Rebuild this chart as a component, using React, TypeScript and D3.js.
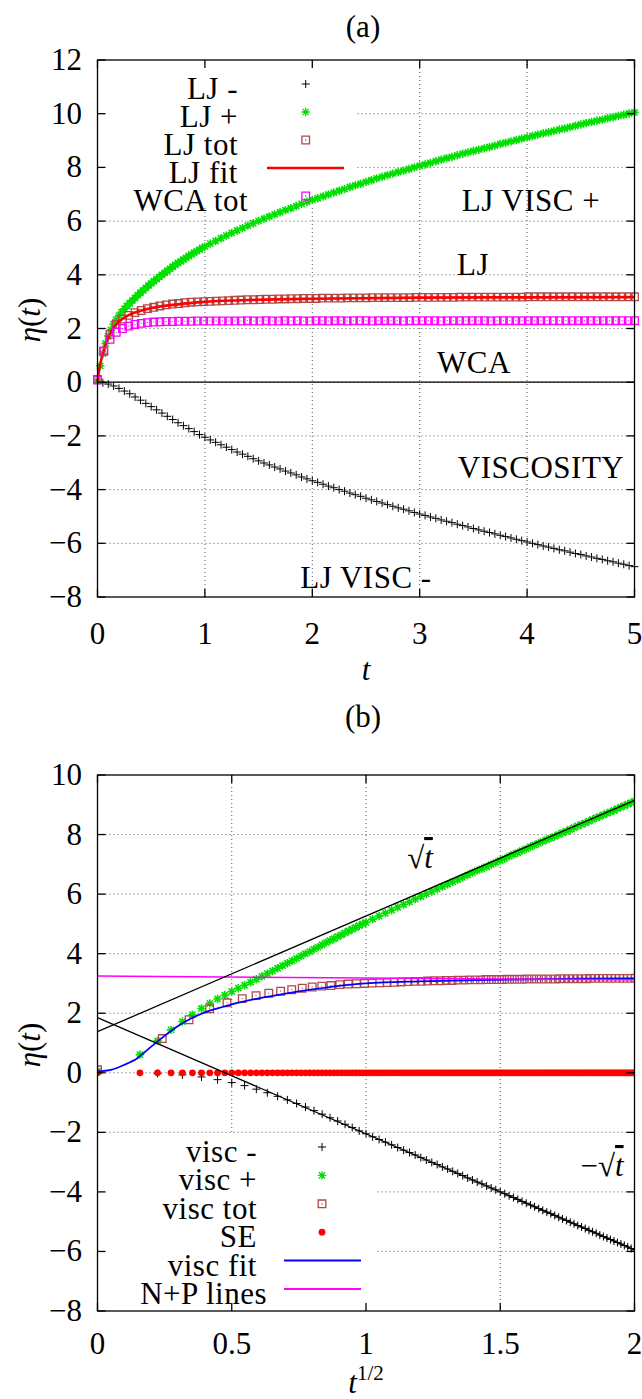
import React from "react";
import * as d3 from "d3";

const WIDTH = 642;
const HEIGHT = 1399;
const FONT = "'Liberation Serif', 'Times New Roman', serif";

// ---------- data ----------
// negative stress contribution, sampled every 0.05 in t
const MINUS_DT = 0.05;
const ljMinus = [
  0.0, -0.02, -0.07, -0.14, -0.23, -0.33, -0.43, -0.55, -0.67, -0.79,
  -0.91, -1.03, -1.15, -1.27, -1.39, -1.51, -1.62, -1.73, -1.84, -1.95,
  -2.05, -2.15, -2.24, -2.33, -2.42, -2.51, -2.6, -2.68, -2.76, -2.85,
  -2.93, -3.01, -3.08, -3.16, -3.23, -3.31, -3.38, -3.45, -3.53, -3.6,
  -3.67, -3.73, -3.8, -3.87, -3.93, -4.0, -4.06, -4.13, -4.19, -4.25,
  -4.32, -4.38, -4.44, -4.5, -4.56, -4.62, -4.68, -4.73, -4.79, -4.85,
  -4.91, -4.96, -5.02, -5.07, -5.13, -5.18, -5.23, -5.29, -5.34, -5.39,
  -5.45, -5.5, -5.55, -5.6, -5.65, -5.7, -5.75, -5.8, -5.85, -5.9,
  -5.95, -6.0, -6.05, -6.1, -6.14, -6.19, -6.24, -6.28, -6.33, -6.38,
  -6.42, -6.47, -6.51, -6.56, -6.6, -6.65, -6.69, -6.74, -6.78, -6.83,
  -6.87,
];

// positive stress contribution: every 0.025 up to t = 1, then every 0.05
const PLUS_EARLY_DT = 0.025;
const ljPlusEarly = [
  0.05, 0.61, 1.07, 1.44, 1.72, 1.95, 2.16, 2.33, 2.48, 2.61,
  2.73, 2.84, 2.94, 3.04, 3.14, 3.24, 3.33, 3.42, 3.51, 3.6,
  3.68, 3.76, 3.84, 3.92, 4.0, 4.07, 4.15, 4.22, 4.3, 4.37,
  4.44, 4.5, 4.57, 4.63, 4.7, 4.76, 4.82, 4.88, 4.94, 5.0,
  5.05,
];
const PLUS_LATE_T0 = 1.05;
const PLUS_LATE_DT = 0.05;
const ljPlusLate = [
  5.16, 5.26, 5.36, 5.46, 5.56, 5.65, 5.74, 5.83, 5.92, 6.01,
  6.09, 6.17, 6.25, 6.33, 6.41, 6.48, 6.56, 6.64, 6.72, 6.79,
  6.85, 6.92, 6.99, 7.06, 7.13, 7.19, 7.27, 7.33, 7.39, 7.46,
  7.52, 7.59, 7.65, 7.71, 7.77, 7.83, 7.88, 7.94, 8.0, 8.06,
  8.11, 8.17, 8.23, 8.29, 8.34, 8.39, 8.45, 8.51, 8.56, 8.61,
  8.66, 8.71, 8.76, 8.81, 8.87, 8.92, 8.97, 9.02, 9.07, 9.12,
  9.17, 9.22, 9.27, 9.31, 9.36, 9.41, 9.45, 9.5, 9.55, 9.6,
  9.65, 9.69, 9.74, 9.78, 9.83, 9.87, 9.92, 9.96, 10.01, 10.05,
];

// total viscosity (LJ and WCA), 87 samples over 0..5
const TOT_DT = 5 / 86;
const ljTot = [
  0.1, 1.15, 1.78, 2.15, 2.35, 2.49, 2.59, 2.67, 2.74, 2.79,
  2.84, 2.88, 2.91, 2.93, 2.96, 2.98, 2.99, 3.0, 3.01, 3.02,
  3.03, 3.04, 3.05, 3.06, 3.07, 3.07, 3.08, 3.09, 3.09, 3.1,
  3.1, 3.11, 3.11, 3.12, 3.12, 3.12, 3.13, 3.13, 3.13, 3.13,
  3.14, 3.14, 3.14, 3.14, 3.15, 3.15, 3.15, 3.15, 3.15, 3.15,
  3.15, 3.16, 3.16, 3.16, 3.16, 3.16, 3.16, 3.16, 3.17, 3.17,
  3.17, 3.17, 3.17, 3.17, 3.17, 3.17, 3.17, 3.17, 3.17, 3.18,
  3.18, 3.18, 3.18, 3.18, 3.18, 3.18, 3.18, 3.18, 3.18, 3.18,
  3.18, 3.18, 3.18, 3.18, 3.18, 3.18, 3.18,
];
const wcaTot = [
  0.08, 1.15, 1.6, 1.86, 2.0, 2.09, 2.15, 2.19, 2.22, 2.24,
  2.25, 2.26, 2.26, 2.27, 2.27, 2.27, 2.28, 2.28, 2.28, 2.28,
  2.28, 2.28, 2.28, 2.28, 2.29, 2.28, 2.28, 2.29, 2.28, 2.28,
  2.29, 2.28, 2.29, 2.28, 2.28, 2.29, 2.29, 2.28, 2.29, 2.29,
  2.28, 2.29, 2.29, 2.29, 2.28, 2.29, 2.29, 2.29, 2.29, 2.28,
  2.29, 2.29, 2.29, 2.29, 2.29, 2.28, 2.29, 2.29, 2.29, 2.29,
  2.29, 2.29, 2.29, 2.28, 2.29, 2.29, 2.29, 2.29, 2.29, 2.29,
  2.29, 2.29, 2.29, 2.29, 2.29, 2.29, 2.29, 2.29, 2.29, 2.29,
  2.29, 2.29, 2.29, 2.29, 2.29, 2.29, 2.29,
];

// fitted total viscosity vs t
const ljFitT = [0, 0.01, 0.02, 0.03, 0.05, 0.075, 0.1, 0.15, 0.2, 0.3, 0.4, 0.5, 0.75, 1, 1.5, 2, 3, 4, 5];
const ljFitV = [0, 0.3, 0.55, 0.75, 1.05, 1.4, 1.66, 2.02, 2.26, 2.52, 2.66, 2.76, 2.9, 2.99, 3.07, 3.11, 3.15, 3.16, 3.17];

// fitted total viscosity vs sqrt(t)
const viscFitX = [0, 0.05, 0.1, 0.15, 0.2, 0.25, 0.3, 0.35, 0.4, 0.45, 0.5, 0.6, 0.7, 0.8, 0.9, 1.0, 1.2, 1.4, 1.6, 1.8, 2.0];
const viscFitV = [0.05, 0.1, 0.27, 0.5, 0.88, 1.24, 1.57, 1.83, 2.03, 2.17, 2.3, 2.5, 2.66, 2.8, 2.92, 3.0, 3.07, 3.11, 3.14, 3.16, 3.17];

// Stokes-Einstein reference, every 0.025 in t
const SE_DT = 0.025;
const seValues = [
  0, 0, 0, 0, 0, 0, 0, 0, 0, 0, 0, 0, 0, 0, 0, 0, 0, 0, 0, 0,
  0, 0, 0, 0, 0, 0, 0, 0, 0, 0, 0, 0, 0, 0, 0, 0, 0, 0, 0, 0,
  0, 0, 0, 0, 0, 0, 0, 0, 0, 0, 0, 0, 0, 0, 0, 0, 0, 0, 0, 0,
  0, 0, 0, 0, 0, 0, 0, 0, 0, 0, 0, 0, 0, 0, 0, 0, 0, 0, 0, 0,
  0, 0, 0, 0, 0, 0, 0, 0, 0, 0, 0, 0, 0, 0, 0, 0, 0, 0, 0, 0,
  0, 0, 0, 0, 0, 0, 0, 0, 0, 0, 0, 0, 0, 0, 0, 0, 0, 0, 0, 0,
  0, 0, 0, 0, 0, 0, 0, 0, 0, 0, 0, 0, 0, 0, 0, 0, 0, 0, 0, 0,
  0, 0, 0, 0, 0, 0, 0, 0, 0, 0, 0, 0, 0, 0, 0, 0, 0, 0, 0, 0,
  0,
];

// straight guide lines in panel (b), given at x = 0 and x = 2
const lineX = [0, 2];
const sqrtLineV = [1.38, 9.15];
const negSqrtLineV = [1.85, -5.95];
const npLineV = [3.25, 3.12];

const xTicksA = [0, 1, 2, 3, 4, 5];
const yTicksA = [-8, -6, -4, -2, 0, 2, 4, 6, 8, 10, 12];
const xTicksB = [0, 0.5, 1, 1.5, 2];
const xTickLabelsB = ["0", "0.5", "1", "1.5", "2"];
const yTicksB = [-8, -6, -4, -2, 0, 2, 4, 6, 8, 10];

const legendA = ["LJ -", "LJ +", "LJ tot", "LJ fit", "WCA tot"];
const legendB = ["visc -", "visc +", "visc tot", "SE", "visc fit", "N+P lines"];

// ---------- styling ----------
const C_GREEN = "#00e000";
const C_BROWN = "#b04848";
const C_PINK = "#ff00ff";
const C_RED = "#ff0000";
const C_BLUE = "#0000ff";
const C_GRID = "#555";
const FS = 31;

const boxA = { left: 97.5, right: 634.5, top: 60, bottom: 597 };
const boxB = { left: 97.5, right: 634.5, top: 775, bottom: 1311 };

// ---------- marker path builders ----------
const plusD = (x: number, y: number, s = 4) => `M${x - s},${y}h${2 * s}M${x},${y - s}v${2 * s}`;
const starD = (x: number, y: number) => {
  const s = 4.2, d = 3.1;
  return plusD(x, y, s) + `M${x - d},${y - d}l${2 * d},${2 * d}M${x - d},${y + d}l${2 * d},${-2 * d}`;
};
const squareD = (x: number, y: number, s = 3.8) => `M${x - s},${y - s}h${2 * s}v${2 * s}h${-2 * s}Z`;
const dotD = (x: number, y: number) => `M${x - 0.6},${y}h1.2`;

const tickText = (v: number) => (v < 0 ? "\u2212" + Math.abs(v) : String(v));

type Pt = [number, number];

const minusPts: Pt[] = ljMinus.map((v, i) => [i * MINUS_DT, v]);
const plusPts: Pt[] = [
  ...ljPlusEarly.map((v, i) => [i * PLUS_EARLY_DT, v] as Pt),
  ...ljPlusLate.map((v, i) => [PLUS_LATE_T0 + i * PLUS_LATE_DT, v] as Pt),
];
const totPts: Pt[] = ljTot.map((v, i) => [i * TOT_DT, v]);
const wcaPts: Pt[] = wcaTot.map((v, i) => [i * TOT_DT, v]);
const fitPts: Pt[] = ljFitT.map((t, i) => [t, ljFitV[i]]);
const sePts: Pt[] = seValues.map((v, i) => [i * SE_DT, v]);

function Frame({ box, xs, ys, xTicks, yTicks }: any) {
  const L = 8;
  return (
    <g stroke="#000" strokeWidth={1.3} fill="none">
      <rect x={box.left} y={box.top} width={box.right - box.left} height={box.bottom - box.top} />
      {yTicks.map((v: number) => (
        <g key={"y" + v}>
          <line x1={box.left} x2={box.left + L} y1={ys(v)} y2={ys(v)} />
          <line x1={box.right - L} x2={box.right} y1={ys(v)} y2={ys(v)} />
        </g>
      ))}
      {xTicks.map((v: number) => (
        <g key={"x" + v}>
          <line x1={xs(v)} x2={xs(v)} y1={box.bottom} y2={box.bottom - L} />
          <line x1={xs(v)} x2={xs(v)} y1={box.top} y2={box.top + L} />
        </g>
      ))}
    </g>
  );
}

function Grid({ box, xs, ys, xTicks, yTicks }: any) {
  return (
    <g stroke={C_GRID} strokeWidth={1} strokeDasharray="1 3" fill="none">
      {xTicks
        .filter((v: number) => xs(v) > box.left + 1 && xs(v) < box.right - 1)
        .map((v: number) => (
          <line key={"gx" + v} x1={xs(v)} x2={xs(v)} y1={box.top} y2={box.bottom} />
        ))}
      {yTicks
        .filter((v: number) => ys(v) > box.top + 1 && ys(v) < box.bottom - 1)
        .map((v: number) => (
          <line key={"gy" + v} x1={box.left} x2={box.right} y1={ys(v)} y2={ys(v)} />
        ))}
    </g>
  );
}

function TickLabels({ xs, ys, xTicks, xLabels, yTicks, xLabelY }: any) {
  return (
    <g fontFamily={FONT} fontSize={FS} fill="#000">
      {yTicks.map((v: number) => (
        <text key={"ly" + v} x={82} y={ys(v) + 10} textAnchor="end">
          {tickText(v)}
        </text>
      ))}
      {xTicks.map((v: number, i: number) => (
        <text key={"lx" + v} x={xs(v)} y={xLabelY} textAnchor="middle">
          {xLabels ? xLabels[i] : tickText(v)}
        </text>
      ))}
    </g>
  );
}

function EtaLabel({ cy }: { cy: number }) {
  return (
    <text
      transform={`translate(40,${cy}) rotate(-90)`}
      textAnchor="middle"
      fontFamily={FONT}
      fontSize={FS}
    >
      <tspan fontStyle="italic">{"\u03B7"}</tspan>(<tspan fontStyle="italic">t</tspan>)
    </text>
  );
}

function PanelA() {
  const xs = d3.scaleLinear().domain([0, 5]).range([boxA.left, boxA.right]);
  const ys = d3.scaleLinear().domain([-8, 12]).range([boxA.bottom, boxA.top]);
  const line = d3
    .line<Pt>()
    .x((d) => xs(d[0]))
    .y((d) => ys(d[1]))
    .curve(d3.curveMonotoneX);

  const keyBox = { x0: boxA.left, x1: 357, y0: boxA.top, y1: 208 };
  const rowY = legendA.map((_, i) => 84 + i * 28);
  const mx = 305.7;

  return (
    <g>
      <text x={363} y={37} textAnchor="middle" fontFamily={FONT} fontSize={FS}>(a)</text>
      <Grid box={boxA} xs={xs} ys={ys} xTicks={xTicksA} yTicks={yTicksA} />
      <rect x={keyBox.x0} y={keyBox.y0} width={keyBox.x1 - keyBox.x0} height={keyBox.y1 - keyBox.y0} fill="#fff" />
      {/* zero axis */}
      <line x1={boxA.left} x2={boxA.right} y1={ys(0)} y2={ys(0)} stroke="#000" strokeWidth={1.2} />

      <path d={minusPts.map(([t, v]) => plusD(xs(t), ys(v))).join("")} stroke="#000" strokeWidth={1} fill="none" />
      <path d={plusPts.map(([t, v]) => starD(xs(t), ys(v))).join("")} stroke={C_GREEN} strokeWidth={1.6} fill="none" />
      <path d={totPts.map(([t, v]) => squareD(xs(t), ys(v))).join("")} stroke={C_BROWN} strokeWidth={1.3} fill="none" />
      <path d={totPts.map(([t, v]) => dotD(xs(t), ys(v))).join("")} stroke={C_BROWN} strokeWidth={1} fill="none" />
      <path d={line(fitPts) || ""} stroke={C_RED} strokeWidth={2.6} fill="none" />
      <path d={wcaPts.map(([t, v]) => squareD(xs(t), ys(v))).join("")} stroke={C_PINK} strokeWidth={1.3} fill="none" />
      <path d={wcaPts.map(([t, v]) => dotD(xs(t), ys(v))).join("")} stroke={C_PINK} strokeWidth={1} fill="none" />

      {/* key */}
      <g fontFamily={FONT} fontSize={FS} letterSpacing={0.5}>
        {legendA.map((s, i) => (
          <text key={s} x={s === "WCA tot" ? 248 : 238} y={rowY[i] + 15} textAnchor="end">
            {s}
          </text>
        ))}
      </g>
      <path d={plusD(mx, rowY[0])} stroke="#000" strokeWidth={1} />
      <path d={starD(mx, rowY[1])} stroke={C_GREEN} strokeWidth={1.3} />
      <path d={squareD(mx, rowY[2]) + dotD(mx, rowY[2])} stroke={C_BROWN} strokeWidth={1.3} fill="none" />
      <line x1={267} x2={344} y1={rowY[3]} y2={rowY[3]} stroke={C_RED} strokeWidth={2.6} />
      <path d={squareD(mx, rowY[4]) + dotD(mx, rowY[4])} stroke={C_PINK} strokeWidth={1.3} fill="none" />

      {/* annotations */}
      <g fontFamily={FONT} fontSize={FS} letterSpacing={0.5} textAnchor="middle">
        <text x={531} y={211}>LJ VISC +</text>
        <text x={473} y={275}>LJ</text>
        <text x={474} y={373}>WCA</text>
        <text x={541} y={478}>VISCOSITY</text>
        <text x={366} y={588}>LJ VISC -</text>
      </g>

      <Frame box={boxA} xs={xs} ys={ys} xTicks={xTicksA} yTicks={yTicksA} />
      <TickLabels xs={xs} ys={ys} xTicks={xTicksA} yTicks={yTicksA} xLabelY={644} />
      <text x={366} y={680} textAnchor="middle" fontFamily={FONT} fontSize={FS} fontStyle="italic">t</text>
      <EtaLabel cy={320} />
    </g>
  );
}

function PanelB() {
  const xs = d3.scaleLinear().domain([0, 2]).range([boxB.left, boxB.right]);
  const ys = d3.scaleLinear().domain([-8, 10]).range([boxB.bottom, boxB.top]);
  const sx = (t: number) => xs(Math.sqrt(t));
  const line = d3
    .line<Pt>()
    .x((d) => xs(d[0]))
    .y((d) => ys(d[1]))
    .curve(d3.curveMonotoneX);
  const straight = d3
    .line<Pt>()
    .x((d) => xs(d[0]))
    .y((d) => ys(d[1]));

  const keyBox = { x0: boxB.left, x1: 376, y0: 1135, y1: boxB.bottom };
  const rowY = legendB.map((_, i) => 1147 + i * 28.4);
  const mx = 322;

  return (
    <g>
      <defs>
        <clipPath id="clipB">
          <rect x={boxB.left} y={boxB.top} width={boxB.right - boxB.left} height={boxB.bottom - boxB.top} />
        </clipPath>
      </defs>
      <text x={363} y={727} textAnchor="middle" fontFamily={FONT} fontSize={FS}>(b)</text>
      <Grid box={boxB} xs={xs} ys={ys} xTicks={xTicksB} yTicks={yTicksB} />
      <rect x={keyBox.x0} y={keyBox.y0} width={keyBox.x1 - keyBox.x0} height={keyBox.y1 - keyBox.y0} fill="#fff" />

      <g clipPath="url(#clipB)">
        <path d={minusPts.map(([t, v]) => plusD(sx(t), ys(v))).join("")} stroke="#000" strokeWidth={1} fill="none" />
        <path d={plusPts.map(([t, v]) => starD(sx(t), ys(v))).join("")} stroke={C_GREEN} strokeWidth={1.6} fill="none" />
        <path d={totPts.map(([t, v]) => squareD(sx(t), ys(v))).join("")} stroke={C_BROWN} strokeWidth={1.3} fill="none" />
        <path d={totPts.map(([t, v]) => dotD(sx(t), ys(v))).join("")} stroke={C_BROWN} strokeWidth={1} fill="none" />
        {sePts.map(([t, v], i) => (
          <circle key={i} cx={sx(t)} cy={ys(v)} r={3.4} fill={C_RED} />
        ))}
        <path d={line(viscFitX.map((x, i) => [x, viscFitV[i]] as Pt)) || ""} stroke={C_BLUE} strokeWidth={1.8} fill="none" />
        <path d={straight(lineX.map((x, i) => [x, npLineV[i]] as Pt)) || ""} stroke={C_PINK} strokeWidth={1.5} fill="none" />
        <path d={straight(lineX.map((x, i) => [x, sqrtLineV[i]] as Pt)) || ""} stroke="#000" strokeWidth={1.3} fill="none" />
        <path d={straight(lineX.map((x, i) => [x, negSqrtLineV[i]] as Pt)) || ""} stroke="#000" strokeWidth={1.3} fill="none" />
      </g>

      {/* key */}
      <g fontFamily={FONT} fontSize={FS} letterSpacing={0.5}>
        {legendB.map((s, i) => (
          <text key={s} x={s === "N+P lines" ? 267 : 257} y={rowY[i] + 15} textAnchor="end">
            {s}
          </text>
        ))}
      </g>
      <path d={plusD(mx, rowY[0])} stroke="#000" strokeWidth={1} />
      <path d={starD(mx, rowY[1])} stroke={C_GREEN} strokeWidth={1.3} />
      <path d={squareD(mx, rowY[2]) + dotD(mx, rowY[2])} stroke={C_BROWN} strokeWidth={1.3} fill="none" />
      <circle cx={mx} cy={rowY[3]} r={3.4} fill={C_RED} />
      <line x1={284} x2={361} y1={rowY[4]} y2={rowY[4]} stroke={C_BLUE} strokeWidth={2} />
      <line x1={284} x2={361} y1={rowY[5]} y2={rowY[5]} stroke={C_PINK} strokeWidth={2} />

      {/* guide line labels */}
      <g fontFamily={FONT} fontSize={FS}>
        <text x={420} y={868} textAnchor="middle">
          {"\u221A"}
          <tspan fontStyle="italic" style={{ textDecoration: "overline" }}>t</tspan>
        </text>
        <text x={602} y={1176} textAnchor="middle">
          {"\u2212\u221A"}
          <tspan fontStyle="italic" style={{ textDecoration: "overline" }}>t</tspan>
        </text>
      </g>

      <Frame box={boxB} xs={xs} ys={ys} xTicks={xTicksB} yTicks={yTicksB} />
      <TickLabels xs={xs} ys={ys} xTicks={xTicksB} xLabels={xTickLabelsB} yTicks={yTicksB} xLabelY={1354} />
      <text x={366} y={1393} textAnchor="middle" fontFamily={FONT} fontSize={FS}>
        <tspan fontStyle="italic">t</tspan>
        <tspan dy={-13} fontSize={21}>1/2</tspan>
      </text>
      <EtaLabel cy={1045} />
    </g>
  );
}

export default function App() {
  return (
    <svg
      width={WIDTH}
      height={HEIGHT}
      viewBox={`0 0 ${WIDTH} ${HEIGHT}`}
      style={{ display: "block", position: "absolute", left: 0, top: 0, background: "#fff" }}
    >
      <rect width={WIDTH} height={HEIGHT} fill="#fff" />
      <PanelA />
      <PanelB />
    </svg>
  );
}
